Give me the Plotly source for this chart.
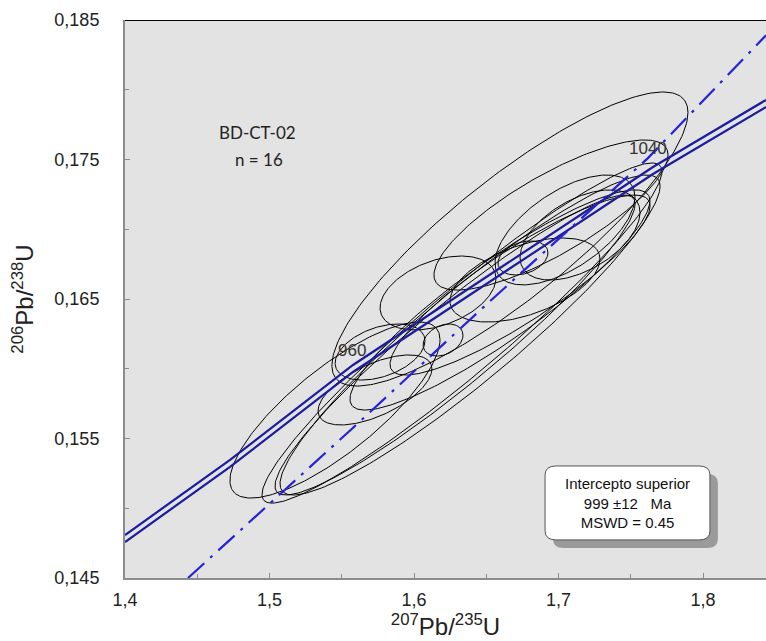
import numpy as np
import plotly.graph_objects as go

# Isotopic ratios: 207Pb/235U (x), 206Pb/238U (y), 2-sigma half-widths and error correlation
x_ratio = [1.6664, 1.5453, 1.6332, 1.6284, 1.6388, 1.6948, 1.7045, 1.7149,
           1.6754, 1.6201, 1.6166, 1.6768, 1.5730, 1.5765, 1.6595, 1.6734]
y_ratio = [0.16930, 0.15704, 0.16256, 0.16170, 0.16242, 0.17102, 0.16995, 0.16959,
           0.16794, 0.16206, 0.16543, 0.16636, 0.15848, 0.16120, 0.16493, 0.16600]
x_err = [0.1232, 0.0727, 0.1384, 0.1246, 0.1315, 0.0810, 0.0484, 0.0415,
         0.0173, 0.0138, 0.0401, 0.0519, 0.0394, 0.0311, 0.1038, 0.0900]
y_err = [0.01054, 0.00631, 0.01219, 0.01075, 0.01147, 0.00538, 0.00394, 0.00323,
         0.00122, 0.00115, 0.00265, 0.00301, 0.00251, 0.00201, 0.00789, 0.00645]
rho = [0.86, 0.80, 0.95, 0.94, 0.93, 0.80, 0.60, 0.50,
       0.30, 0.30, 0.40, 0.50, 0.60, 0.40, 0.90, 0.88]

# Concordia curve (dash-dot) and discordia error envelope (two solid lines)
concordia_x = [1.4436, 1.5571, 1.6500, 1.7619, 1.8436]
concordia_y = [0.1450, 0.1557, 0.1646, 0.1751, 0.1839]
env_upper_x = [1.4000, 1.4727, 1.5578, 1.7654, 1.8436]
env_upper_y = [0.14808, 0.15346, 0.16027, 0.17446, 0.17927]
env_lower_x = [1.4000, 1.4727, 1.5578, 1.7654, 1.8436]
env_lower_y = [0.14758, 0.15296, 0.15977, 0.17396, 0.17876]

# Concordia age labels (Ma)
age_labels = ["960", "1040"]
age_label_x = [1.5571, 1.7619]
age_label_y = [0.16134, 0.17582]

x_ticks = [1.4, 1.5, 1.6, 1.7, 1.8]
y_ticks = [0.145, 0.155, 0.165, 0.175, 0.185]

X_MIN, X_MAX = 1.4, 1.8436
Y_MIN, Y_MAX = 0.145, 0.185

fig = go.Figure()

t = np.linspace(0, 2 * np.pi, 240)
for cx, cy, hx, hy, r in zip(x_ratio, y_ratio, x_err, y_err, rho):
    ex = cx + hx * np.cos(t)
    ey = cy + hy * (r * np.cos(t) + np.sqrt(1 - r * r) * np.sin(t))
    fig.add_trace(go.Scatter(x=ex, y=ey, mode="lines",
                             line=dict(color="black", width=1),
                             showlegend=False, hoverinfo="skip"))

for lx, ly in ((env_upper_x, env_upper_y), (env_lower_x, env_lower_y)):
    fig.add_trace(go.Scatter(x=lx, y=ly, mode="lines",
                             line=dict(color="#1c1c9c", width=2.2),
                             showlegend=False, hoverinfo="skip"))

fig.add_trace(go.Scatter(x=concordia_x, y=concordia_y, mode="lines",
                         line=dict(color="#2323d8", width=2.2, dash="22px,8px,3px,8px"),
                         showlegend=False, hoverinfo="skip"))

for txt, ax_, ay_ in zip(age_labels, age_label_x, age_label_y):
    fig.add_annotation(x=ax_, y=ay_, text=txt, showarrow=False,
                       font=dict(family="Liberation Sans, Arial", size=17, color="#333333"))

# sample name and number of analyses
fig.add_annotation(x=1.4915, y=0.17690, text="BD-CT-02", showarrow=False,
                   font=dict(family="Lato, Open Sans", size=17, color="#222222"))
fig.add_annotation(x=1.4930, y=0.17497, text="n = 16", showarrow=False,
                   font=dict(family="Lato, Open Sans", size=17, color="#222222"))

# top frame line
fig.add_shape(type="line", xref="x", yref="y", x0=X_MIN, x1=X_MAX, y0=Y_MAX, y1=Y_MAX,
              line=dict(color="black", width=2))


def rounded_rect(x0, y0, x1, y1, rx, ry):
    return (f"M {x0 + rx},{y1} L {x1 - rx},{y1} Q {x1},{y1} {x1},{y1 - ry} "
            f"L {x1},{y0 + ry} Q {x1},{y0} {x1 - rx},{y0} "
            f"L {x0 + rx},{y0} Q {x0},{y0} {x0},{y0 + ry} "
            f"L {x0},{y1 - ry} Q {x0},{y1} {x0 + rx},{y1} Z")


# result box with drop shadow
bx0, bx1, by0, by1 = 1.6907, 1.8048, 0.14773, 0.15303
rx, ry = 0.0075, 0.00065
fig.add_shape(type="path", xref="x", yref="y",
              path=rounded_rect(bx0 + 0.0055, by0 - 0.00058, bx1 + 0.0055, by1 - 0.00058, rx, ry),
              fillcolor="#9a9a9a", line=dict(width=0), layer="above")
fig.add_shape(type="path", xref="x", yref="y",
              path=rounded_rect(bx0, by0, bx1, by1, rx, ry),
              fillcolor="white", line=dict(color="#555555", width=1), layer="above")
fig.add_annotation(x=(bx0 + bx1) / 2, y=(by0 + by1) / 2,
                   text="Intercepto superior<br>999 ±12   Ma<br>MSWD = 0.45",
                   showarrow=False, align="center",
                   font=dict(family="Liberation Sans, Arial", size=15, color="#111111"))

fig.update_layout(
    width=766, height=641,
    margin=dict(l=125, r=0, t=20, b=63),
    paper_bgcolor="white",
    plot_bgcolor="#e3e3e3",
    separators=",.",
    showlegend=False,
    font=dict(family="Liberation Sans, Arial", color="#222222"),
)

fig.update_xaxes(
    range=[X_MIN, X_MAX], tickvals=x_ticks, tickformat=".1f",
    showgrid=False, zeroline=False,
    showline=True, linecolor="#8c8c8c", linewidth=2,
    ticks="inside", ticklen=5, tickcolor="#8c8c8c",
    minor=dict(dtick=0.05, tick0=1.4, ticks="inside", ticklen=4, tickcolor="#8c8c8c"),
    tickfont=dict(size=18, color="#222222"),
    ticklabelstandoff=4,
    title=dict(text="<sup>207</sup>Pb/<sup>235</sup>U", font=dict(size=24, color="#222222"),
               standoff=2),
)
fig.update_yaxes(
    range=[Y_MIN, Y_MAX], tickvals=y_ticks, tickformat=".3f",
    showgrid=False, zeroline=False,
    showline=True, linecolor="#8c8c8c", linewidth=2,
    ticks="inside", ticklen=5, tickcolor="#8c8c8c",
    minor=dict(dtick=0.005, tick0=0.145, ticks="inside", ticklen=4, tickcolor="#8c8c8c"),
    tickfont=dict(size=18, color="#222222"),
    ticklabelstandoff=20,
    title=dict(text="<sup>206</sup>Pb/<sup>238</sup>U", font=dict(size=24, color="#222222"),
               standoff=14),
)

fig.write_html("out.html")
